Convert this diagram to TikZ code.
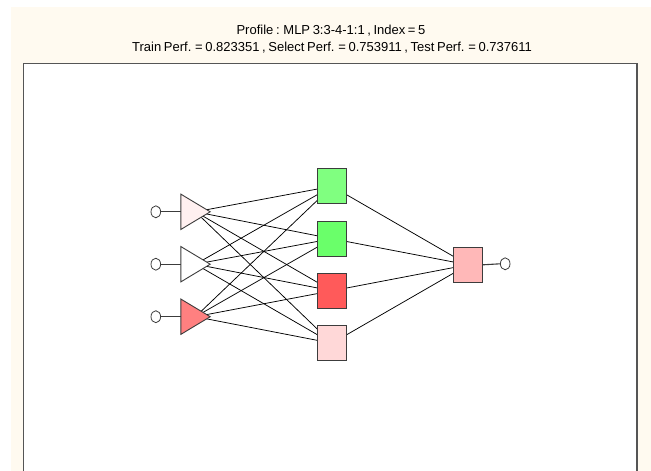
\documentclass[tikz,border=0pt]{standalone}
\usepackage{fontspec}
\setmainfont{Liberation Sans}
\usetikzlibrary{shapes.geometric}
\pgfdeclarelayer{back}
\pgfdeclarelayer{links}
\pgfsetlayers{back,links,main}
\definecolor{cream}{RGB}{255,250,240}
\definecolor{framegray}{RGB}{85,85,85}
\definecolor{edgegray}{RGB}{60,60,60}
\definecolor{tOne}{RGB}{255,240,240}
\definecolor{tTwo}{RGB}{255,255,255}
\definecolor{tThree}{RGB}{255,128,128}
\definecolor{hOne}{RGB}{128,255,128}
\definecolor{hTwo}{RGB}{106,255,106}
\definecolor{hThree}{RGB}{255,90,90}
\definecolor{hFour}{RGB}{255,216,216}
\definecolor{oOne}{RGB}{255,184,184}
% title type: slightly larger letters, narrow word spaces
\newcommand\ttlset{\fontsize{13pt}{15pt}\selectfont\spaceskip=2.6pt\relax}
\tikzset{
  unitbox/.style={rectangle, draw=edgegray, line width=0.9pt, minimum width=29.4pt, minimum height=35pt, inner sep=0pt},
  tribox/.style={rectangle, minimum width=29pt, minimum height=35pt, inner sep=0pt},
  tridraw/.style={draw=edgegray, line width=0.9pt, line join=miter},
  port/.style={ellipse, draw=edgegray, line width=0.8pt, fill=white, minimum width=9.6pt, minimum height=12pt, inner sep=0pt},
  link/.style={draw=black, line width=0.75pt},
  stub/.style={draw=edgegray, line width=1.1pt},
  title/.style={anchor=base, inner sep=0pt},
}
\begin{document}
\begin{tikzpicture}[x=1pt,y=-1pt]
\useasboundingbox (0,0) rectangle (651,471);
\begin{pgfonlayer}{back}
  \fill[cream] (11,7) rectangle (651,471);
  \fill[white] (23.5,63.5) rectangle (637,475);
  \draw[framegray, line width=1.8pt] (23.5,480) -- (23.5,63.5) -- (637,63.5) -- (637,480);
\end{pgfonlayer}

% titles
\node[title] (ttl) at (331,34.3) {\ttlset Profile : MLP 3:3-4-1:1 , Index = 5};
\node[title] (perf) at (332,51.7) {\ttlset Train Perf. = 0.823351 , Select Perf. = 0.753911 , Test Perf. = 0.737611};

% input layer
\foreach \n/\y/\c in {1/211.8/tOne, 2/264.2/tTwo, 3/316.7/tThree}{
  \node[tribox] (t\n) at (195.5,\y) {};
  \fill[\c] (t\n.north west) -- (t\n.east) -- (t\n.south west) -- cycle;
  \draw[tridraw] (t\n.north west) -- (t\n.east) -- (t\n.south west) -- cycle;
  \node[port] (i\n) at (155.8,\y) {};
  \draw[stub] (i\n.east) -- (t\n.west);
}

% hidden layer
\node[unitbox, fill=hOne]   (h1) at (332,186.3) {};
\node[unitbox, fill=hTwo]   (h2) at (332,238.7) {};
\node[unitbox, fill=hThree] (h3) at (332,290.8) {};
\node[unitbox, fill=hFour]  (h4) at (332,343.2) {};

% output layer
\node[unitbox, fill=oOne] (o1) at (468,264.8) {};
\node[port] (out) at (505.2,263.8) {};
\draw[stub] (o1.east) -- (out.west);

% weights
\begin{pgfonlayer}{links}
  \foreach \a in {1,2,3}{
    \foreach \b in {1,2,3,4}{
      \draw[link] (t\a.center) -- (h\b.center);
    }
  }
  \foreach \b in {1,2,3,4}{
    \draw[link] (h\b.center) -- (o1.center);
  }
\end{pgfonlayer}
\end{tikzpicture}
\end{document}
